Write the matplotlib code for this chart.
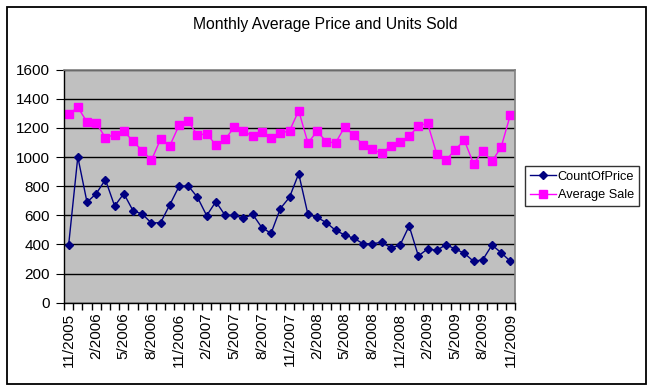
import matplotlib
matplotlib.use("Agg")
import matplotlib.pyplot as plt
import numpy as np
from matplotlib.patches import Rectangle

plt.rcParams["font.family"] = ["Liberation Sans", "DejaVu Sans"]

# months 11/2005 .. 11/2009
months = [f"{(10 + i) % 12 + 1}/{2005 + (10 + i) // 12}" for i in range(49)]

count_of_price = [394, 1001, 690, 749, 845, 664, 749, 632, 609, 547,
                  550, 673, 799, 802, 724, 598, 694, 600, 600, 580,
                  607, 515, 477, 646, 724, 886, 607, 586, 550, 497,
                  465, 442, 405, 405, 415, 378, 394, 527, 321, 369,
                  360, 398, 369, 339, 284, 295, 396, 343, 284]

average_sale = [1294, 1342, 1241, 1234, 1133, 1154, 1179, 1108, 1044, 978,
                1124, 1078, 1218, 1246, 1150, 1161, 1083, 1122, 1205, 1179,
                1143, 1170, 1133, 1166, 1179, 1319, 1097, 1177, 1106, 1097,
                1207, 1150, 1081, 1053, 1026, 1076, 1104, 1143, 1214, 1232,
                1021, 978, 1051, 1115, 953, 1040, 971, 1069, 1291]

W, H = 653, 390
fig = plt.figure(figsize=(W / 100, H / 100), dpi=100)

# chart area border
fig.patches.append(Rectangle((6.5 / W, 1 - 383.5 / H), 639.5 / W, 377 / H,
                             transform=fig.transFigure, fill=False,
                             edgecolor="black", linewidth=1.3))

ax = fig.add_axes([64 / W, 1 - 302.7 / H, 451 / W, 233 / H])
ax.set_facecolor("#C0C0C0")

x = np.arange(len(months))
ax.plot(x, count_of_price, color="#000080", marker="D", markersize=4.5,
        linewidth=1, label="CountOfPrice")
ax.plot(x, average_sale, color="#FF00FF", marker="s", markersize=5.5,
        linewidth=1, label="Average Sale")

ax.set_xlim(-0.5, len(months) - 0.5)
ax.set_ylim(0, 1600)
ax.set_yticks(range(0, 1601, 200))
ax.grid(axis="y", color="black", linewidth=1)
ax.set_axisbelow(True)

ax.set_xticks(x[::3])
ax.set_xticklabels(months[::3], rotation=90, fontsize=11)
ax.set_xticks(np.arange(-0.5, len(months), 1), minor=True)
ax.tick_params(axis="x", which="major", length=0, pad=7)
ax.tick_params(axis="x", which="minor", length=5, direction="out", width=1)
ax.tick_params(axis="y", length=6, direction="out", labelsize=11, pad=4)

for side in ["top", "right"]:
    ax.spines[side].set_color("#808080")
    ax.spines[side].set_linewidth(1.2)
for side in ["left", "bottom"]:
    ax.spines[side].set_color("black")
    ax.spines[side].set_linewidth(1)

fig.text(325 / W, 1 - 25 / H, "Monthly Average Price and Units Sold",
         ha="center", va="center", fontsize=11.3)

leg = ax.legend(loc="center left", bbox_to_anchor=(525 / W, 1 - 186 / H),
                bbox_transform=fig.transFigure, fontsize=9.2, frameon=True,
                fancybox=False, edgecolor="black", borderpad=0.4,
                handlelength=2.0, handletextpad=0.15, labelspacing=0.5,
                borderaxespad=0)
leg.get_frame().set_linewidth(1)

fig.savefig("out.png", dpi=100)
